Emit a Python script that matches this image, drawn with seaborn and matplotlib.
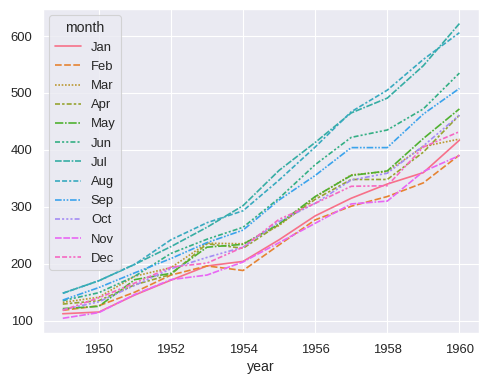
import pandas as pd
import matplotlib.pyplot as plt
import seaborn as sns

sns.set_theme(style="darkgrid", font_scale=1.06)
plt.rcParams['font.family'] = ['Liberation Sans', 'DejaVu Sans']

months = ["Jan", "Feb", "Mar", "Apr", "May", "Jun",
          "Jul", "Aug", "Sep", "Oct", "Nov", "Dec"]
years = list(range(1949, 1961))

# passengers per month, one row per year
passengers = [
    [112, 118, 132, 129, 121, 135, 148, 148, 136, 119, 104, 118],
    [115, 126, 141, 135, 125, 149, 170, 170, 158, 133, 114, 140],
    [145, 150, 178, 163, 172, 178, 199, 199, 184, 162, 146, 166],
    [171, 180, 193, 181, 183, 218, 230, 242, 209, 191, 172, 194],
    [196, 196, 236, 235, 229, 243, 264, 272, 237, 211, 180, 201],
    [204, 188, 235, 227, 234, 264, 302, 293, 259, 229, 203, 229],
    [242, 233, 267, 269, 270, 315, 364, 347, 312, 274, 237, 278],
    [284, 277, 317, 313, 318, 374, 413, 405, 355, 306, 271, 306],
    [315, 301, 356, 348, 355, 422, 465, 467, 404, 347, 305, 336],
    [340, 318, 362, 348, 363, 435, 491, 505, 404, 359, 310, 337],
    [360, 342, 406, 396, 420, 472, 548, 559, 463, 407, 362, 405],
    [417, 391, 419, 461, 472, 535, 622, 606, 508, 461, 390, 432],
]

rows = []
for y, vals in zip(years, passengers):
    for m, v in zip(months, vals):
        rows.append({"year": y, "month": m, "passengers": v})
flights = pd.DataFrame(rows)
flights["month"] = pd.Categorical(flights["month"], categories=months, ordered=True)

fig, ax = plt.subplots(figsize=(6.1, 4.8125), dpi=80)
sns.lineplot(data=flights, x="year", y="passengers", hue="month", style="month", ax=ax)
ax.set_ylabel("")
sns.move_legend(ax, "upper left", title_fontsize=12 * 1.06, labelspacing=0.55)
fig.subplots_adjust(left=0.088, right=0.982, top=0.977, bottom=0.135)
plt.savefig("out.png", dpi=80)
